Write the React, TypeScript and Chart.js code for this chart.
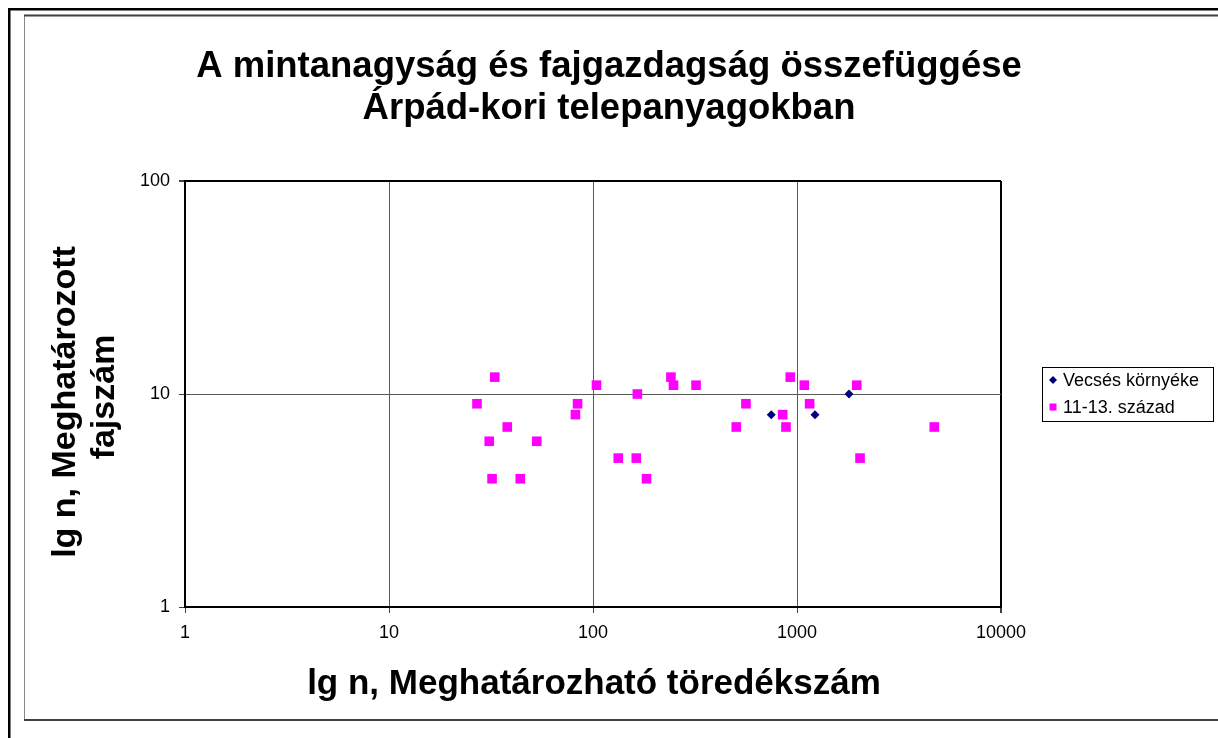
import React, { useEffect, useRef } from "react";
import { Chart, registerables } from "chart.js";

Chart.register(...registerables);

const titleLines = ["A mintanagyság és fajgazdagság összefüggése", "Árpád-kori telepanyagokban"];
const xAxisTitle = "lg n, Meghatározható töredékszám";
const yAxisTitleLines = ["lg n, Meghatározott", "fajszám"];

const seriesNames = ["Vecsés környéke", "11-13. század"];

const vecsesX = [748, 1225, 1798];
const vecsesY = [8, 8, 10];

const centuryX = [27, 33, 31, 38, 32, 44, 53, 82, 84, 104, 133, 163, 165, 183, 241, 248, 320, 504, 562, 851, 883, 927, 1086, 1153, 1963, 2037, 4710];
const centuryY = [9, 12, 6, 7, 4, 4, 6, 8, 9, 11, 5, 5, 10, 4, 12, 11, 11, 7, 9, 8, 7, 12, 11, 9, 11, 5, 7];

const xTicks = [1, 10, 100, 1000, 10000];
const yTicks = [1, 10, 100];

const FONT = "'Liberation Sans', Arial, Helvetica, sans-serif";
const NAVY = "#000080";
const PINK = "#FF00FF";

const decorPlugin = {
  id: "decor",
  beforeDraw(chart: any) {
    const ctx = chart.ctx;
    ctx.save();
    ctx.fillStyle = "#fff";
    ctx.fillRect(0, 0, chart.width, chart.height);
    // outer black frame
    ctx.fillStyle = "#000";
    ctx.fillRect(8, 8, chart.width - 8, 2.5);
    ctx.fillRect(8, 8, 2.5, chart.height - 8);
    // inner frame
    ctx.fillStyle = "#888";
    ctx.fillRect(24, 15, 1, 706);
    ctx.fillStyle = "#404040";
    ctx.fillRect(24, 14.5, chart.width - 24, 2);
    ctx.fillRect(24, 719, chart.width - 24, 2);
    ctx.restore();
  },
  afterDraw(chart: any) {
    const ctx = chart.ctx;
    ctx.save();
    ctx.fillStyle = "#000";
    // title
    ctx.font = `bold 36.5px ${FONT}`;
    ctx.textAlign = "center";
    ctx.textBaseline = "alphabetic";
    ctx.fillText(titleLines[0], 609, 77);
    ctx.fillText(titleLines[1], 609, 119);
    // x axis title
    ctx.font = `bold 35px ${FONT}`;
    ctx.fillText(xAxisTitle, 594, 694);
    // y axis title
    ctx.save();
    ctx.font = `bold 34px ${FONT}`;
    ctx.rotate(-Math.PI / 2);
    ctx.textBaseline = "middle";
    ctx.fillText(yAxisTitleLines[0], -402, 66);
    ctx.fillText(yAxisTitleLines[1], -397, 105);
    ctx.restore();
    // legend
    const lx = 1042, ly = 367, lw = 171, lh = 54;
    ctx.strokeStyle = "#000";
    ctx.lineWidth = 1;
    ctx.strokeRect(lx + 0.5, ly + 0.5, lw, lh);
    ctx.font = `18px ${FONT}`;
    ctx.textAlign = "left";
    ctx.textBaseline = "middle";
    const rows = [380, 407];
    // diamond
    ctx.fillStyle = NAVY;
    ctx.beginPath();
    ctx.moveTo(1053, rows[0] - 4);
    ctx.lineTo(1057, rows[0]);
    ctx.lineTo(1053, rows[0] + 4);
    ctx.lineTo(1049, rows[0]);
    ctx.closePath();
    ctx.fill();
    ctx.fillStyle = PINK;
    ctx.fillRect(1049.5, rows[1] - 3.5, 7, 7);
    ctx.fillStyle = "#000";
    ctx.fillText(seriesNames[0], 1063, rows[0] + 1);
    ctx.fillText(seriesNames[1], 1063, rows[1] + 1);
    ctx.restore();
  },
};

export default function App() {
  const ref = useRef<HTMLCanvasElement | null>(null);
  useEffect(() => {
    if (!ref.current) return;
    const chart = new Chart(ref.current, {
      type: "scatter",
      data: {
        datasets: [
          {
            label: seriesNames[0],
            data: vecsesX.map((x, i) => ({ x, y: vecsesY[i] })),
            backgroundColor: NAVY,
            borderColor: NAVY,
            borderWidth: 0,
            pointStyle: "rectRot",
            pointRadius: 4.5,
            pointHoverRadius: 4.5,
          },
          {
            label: seriesNames[1],
            data: centuryX.map((x, i) => ({ x, y: centuryY[i] })),
            backgroundColor: PINK,
            borderColor: PINK,
            borderWidth: 0,
            pointStyle: "rect",
            pointRadius: 6.8,
            pointHoverRadius: 6.8,
          },
        ],
      },
      options: {
        responsive: false,
        animation: false,
        events: [],
        layout: { padding: { top: 181, right: 217, left: 0, bottom: 0 } },
        plugins: {
          legend: { display: false },
          title: { display: false },
          tooltip: { enabled: false },
        },
        scales: {
          x: {
            type: "logarithmic",
            min: 1,
            max: 10000,
            afterBuildTicks: (s: any) => {
              s.ticks = xTicks.map((v) => ({ value: v }));
            },
            afterFit: (s: any) => {
              s.height = 131;
            },
            ticks: {
              color: "#000",
              font: { family: FONT, size: 18 },
              padding: 9,
              maxRotation: 0,
              autoSkip: false,
              callback: (v: any) => String(v),
            },
            grid: {
              color: (c: any) => (c.tick && c.tick.value === 10000 ? "#000" : "#5a5a5a"),
              lineWidth: (c: any) => (c.tick && c.tick.value === 10000 ? 2 : 1),
              tickColor: "#404040",
              tickLength: 6,
            },
            border: { display: true, color: "#000", width: 2 },
          },
          y: {
            type: "logarithmic",
            min: 1,
            max: 100,
            afterBuildTicks: (s: any) => {
              s.ticks = yTicks.map((v) => ({ value: v }));
            },
            afterFit: (s: any) => {
              s.width = 185;
            },
            ticks: {
              color: "#000",
              font: { family: FONT, size: 18 },
              padding: 9,
              autoSkip: false,
              callback: (v: any) => String(v),
            },
            grid: {
              color: (c: any) => (c.tick && c.tick.value === 100 ? "#000" : "#5a5a5a"),
              lineWidth: (c: any) => (c.tick && c.tick.value === 100 ? 2 : 1),
              tickColor: "#404040",
              tickLength: 6,
            },
            border: { display: true, color: "#000", width: 2 },
          },
        },
      },
      plugins: [decorPlugin],
    });
    return () => chart.destroy();
  }, []);
  return (
    <div style={{ position: "fixed", left: 0, top: 0, width: 1218, height: 738, background: "#fff" }}>
      <canvas ref={ref} width={1218} height={738} style={{ display: "block", width: 1218, height: 738 }} />
    </div>
  );
}
